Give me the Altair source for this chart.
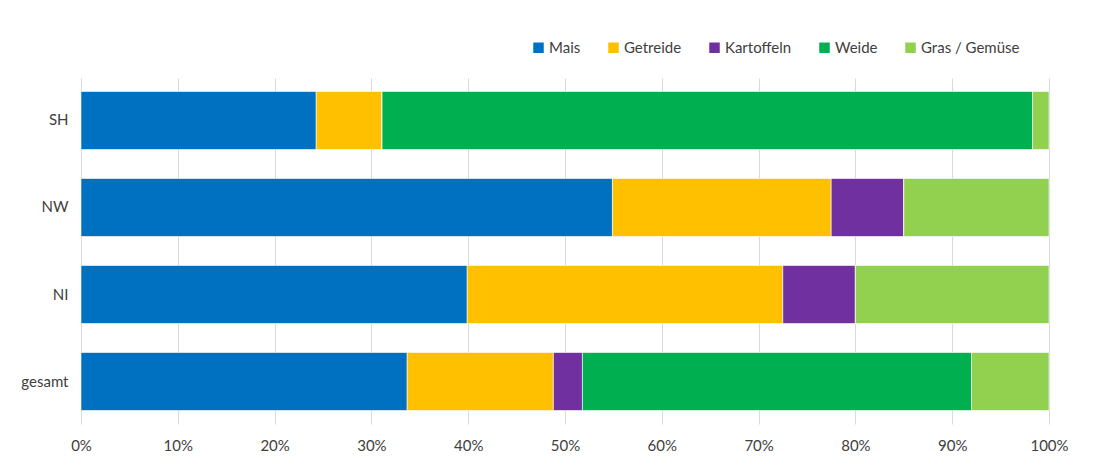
import altair as alt
import pandas as pd

regions = ["SH", "NW", "NI", "gesamt"]
crops = ["Mais", "Getreide", "Kartoffeln", "Weide", "Gras / Gemüse"]
colors = ["#0070C0", "#FFC000", "#7030A0", "#00B050", "#92D050"]

mais = [24.3, 54.9, 39.9, 33.7]
getreide = [6.8, 22.6, 32.6, 15.1]
kartoffeln = [0.0, 7.5, 7.5, 3.0]
weide = [67.2, 0.0, 0.0, 40.2]
gras = [1.7, 15.0, 20.0, 8.0]

series = [mais, getreide, kartoffeln, weide, gras]
rows = []
for ci, (crop, vals) in enumerate(zip(crops, series)):
    for r, v in zip(regions, vals):
        rows.append({"Region": r, "Kultur": crop, "Anteil": v, "order": ci})
df = pd.DataFrame(rows)

font = "Lato"
txt = "#404040"
fs = 15

chart = alt.Chart(df).mark_bar(stroke="white", strokeWidth=0.6).encode(
    y=alt.Y("Region:N", sort=regions, title=None,
            scale=alt.Scale(paddingInner=0.333, paddingOuter=0.155),
            axis=alt.Axis(ticks=False, domain=False, labelPadding=13,
                          labelFontSize=fs, labelColor=txt, labelFont=font)),
    x=alt.X("Anteil:Q", stack="normalize", title=None,
            scale=alt.Scale(domain=[0, 1]),
            axis=alt.Axis(format=".0%", values=[i / 10 for i in range(11)],
                          ticks=False, domain=False, grid=True,
                          gridColor="#d9d9d9", gridWidth=1, labelFlush=False,
                          labelPadding=14, labelFontSize=fs, labelColor=txt,
                          labelFont=font)),
    color=alt.Color("Kultur:N", sort=crops,
                    scale=alt.Scale(domain=crops, range=colors),
                    legend=alt.Legend(title=None, orient="none", direction="horizontal",
                                      legendX=450, legendY=-38,
                                      symbolType="square", symbolSize=110,
                                      symbolStrokeWidth=0, labelFontSize=fs,
                                      labelFont=font, labelColor=txt,
                                      labelOffset=3, columnPadding=25)),
    order=alt.Order("order:Q"),
).properties(
    width=968, height=346,
    autosize=alt.AutoSizeParams(type="none"),
    padding={"left": 73, "top": 70, "right": 30, "bottom": 40},
).configure_view(stroke=None)

chart.save("out.html", embed_options={"renderer": "svg", "actions": False})
